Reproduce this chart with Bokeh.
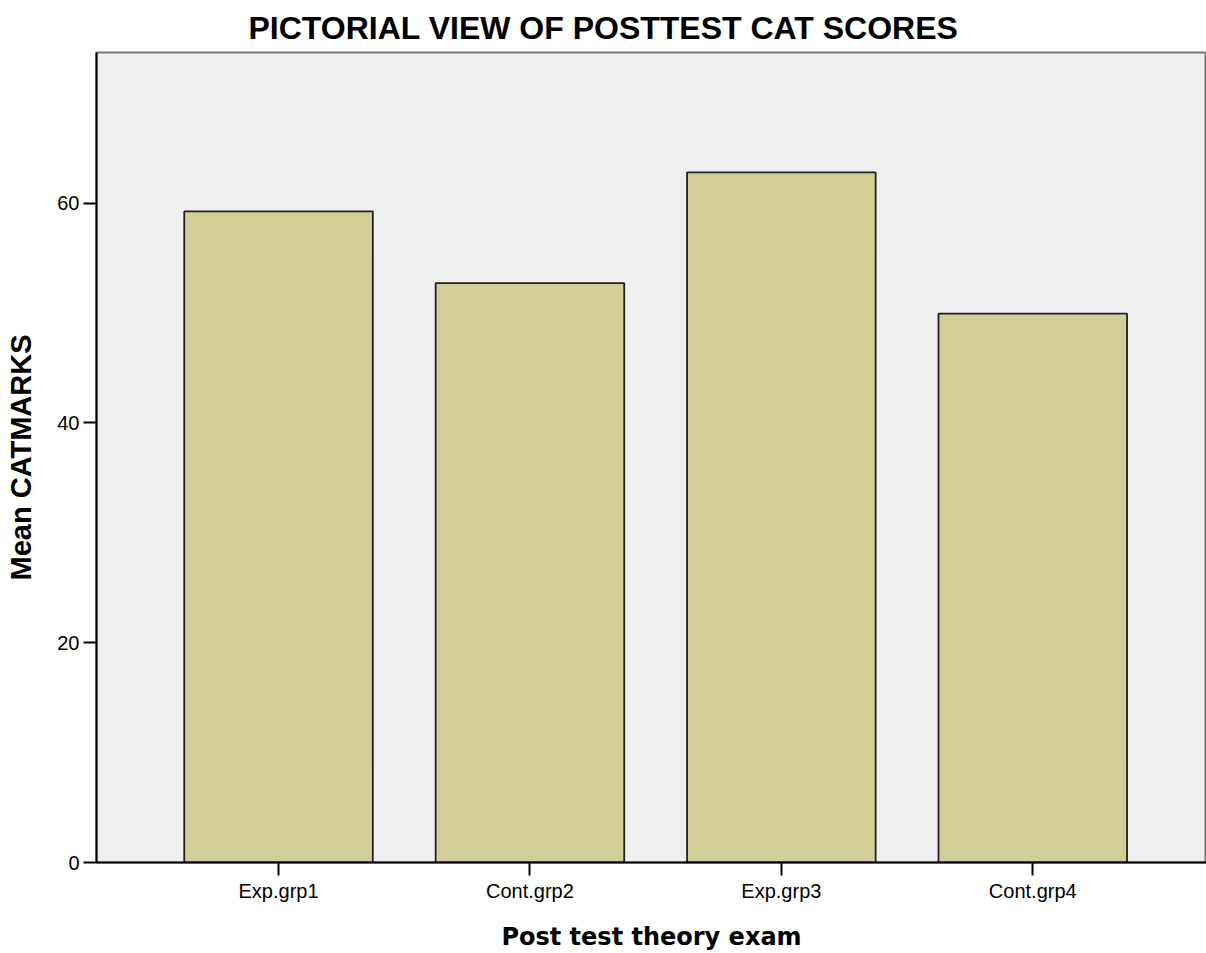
from bokeh.plotting import figure
from bokeh.models import FixedTicker, Range1d, ColumnDataSource
from bokeh.embed import file_html
from bokeh.resources import INLINE

categories = ["Exp.grp1", "Cont.grp2", "Exp.grp3", "Cont.grp4"]
mean_catmarks = [59.24, 52.72, 62.79, 49.94]
y_ticks = [0, 20, 40, 60]

xs = list(range(len(categories)))
src = ColumnDataSource(dict(x=xs, top=mean_catmarks, name=categories))

p = figure(width=1206, height=953, output_backend="svg", toolbar_location=None,
           x_range=Range1d(-0.724, 3.691), y_range=Range1d(0, 73.7),
           min_border_left=96, min_border_right=0, min_border_top=52, min_border_bottom=90,
           title="PICTORIAL VIEW OF POSTTEST CAT SCORES")

p.background_fill_color = "#efefef"
p.border_fill_color = "white"
p.outline_line_color = "#777777"
p.outline_line_width = 2
p.xgrid.visible = False
p.ygrid.visible = False

p.vbar(x="x", top="top", width=0.75, source=src, fill_color="#d3ce97",
       line_color="#222222", line_width=1.8)

p.title.align = "left"
p.title.offset = 152
p.title.standoff = 13
p.title.text_font = "Liberation Sans"
p.title.text_font_size = "32px"
p.title.text_font_style = "bold"
p.title.text_color = "black"

p.xaxis.ticker = FixedTicker(ticks=xs)
p.xaxis.major_label_overrides = {i: c for i, c in enumerate(categories)}
p.yaxis.ticker = FixedTicker(ticks=y_ticks)

for ax in (p.xaxis[0], p.yaxis[0]):
    ax.axis_line_color = "black"
    ax.axis_line_width = 2
    ax.major_tick_line_color = "black"
    ax.major_tick_line_width = 2
    ax.major_tick_out = 13
    ax.major_tick_in = 0
    ax.minor_tick_line_color = None
    ax.major_label_text_font = "Liberation Sans"
    ax.major_label_text_font_size = "20px"
    ax.major_label_text_color = "black"
    ax.major_label_standoff = 4

p.yaxis.axis_label = "Mean CATMARKS"
p.yaxis.axis_label_text_font = "Liberation Sans"
p.yaxis.axis_label_text_font_style = "bold"
p.yaxis.axis_label_text_font_size = "29px"
p.yaxis.axis_label_text_color = "black"
p.yaxis.axis_label_standoff = 17

p.xaxis.axis_label = "Post test theory exam"
p.xaxis.axis_label_text_font = "DejaVu Sans"
p.xaxis.axis_label_text_font_style = "bold"
p.xaxis.axis_label_text_font_size = "24px"
p.xaxis.axis_label_text_color = "black"
p.xaxis.axis_label_standoff = 18

open("out.html", "w").write(file_html(p, INLINE))
